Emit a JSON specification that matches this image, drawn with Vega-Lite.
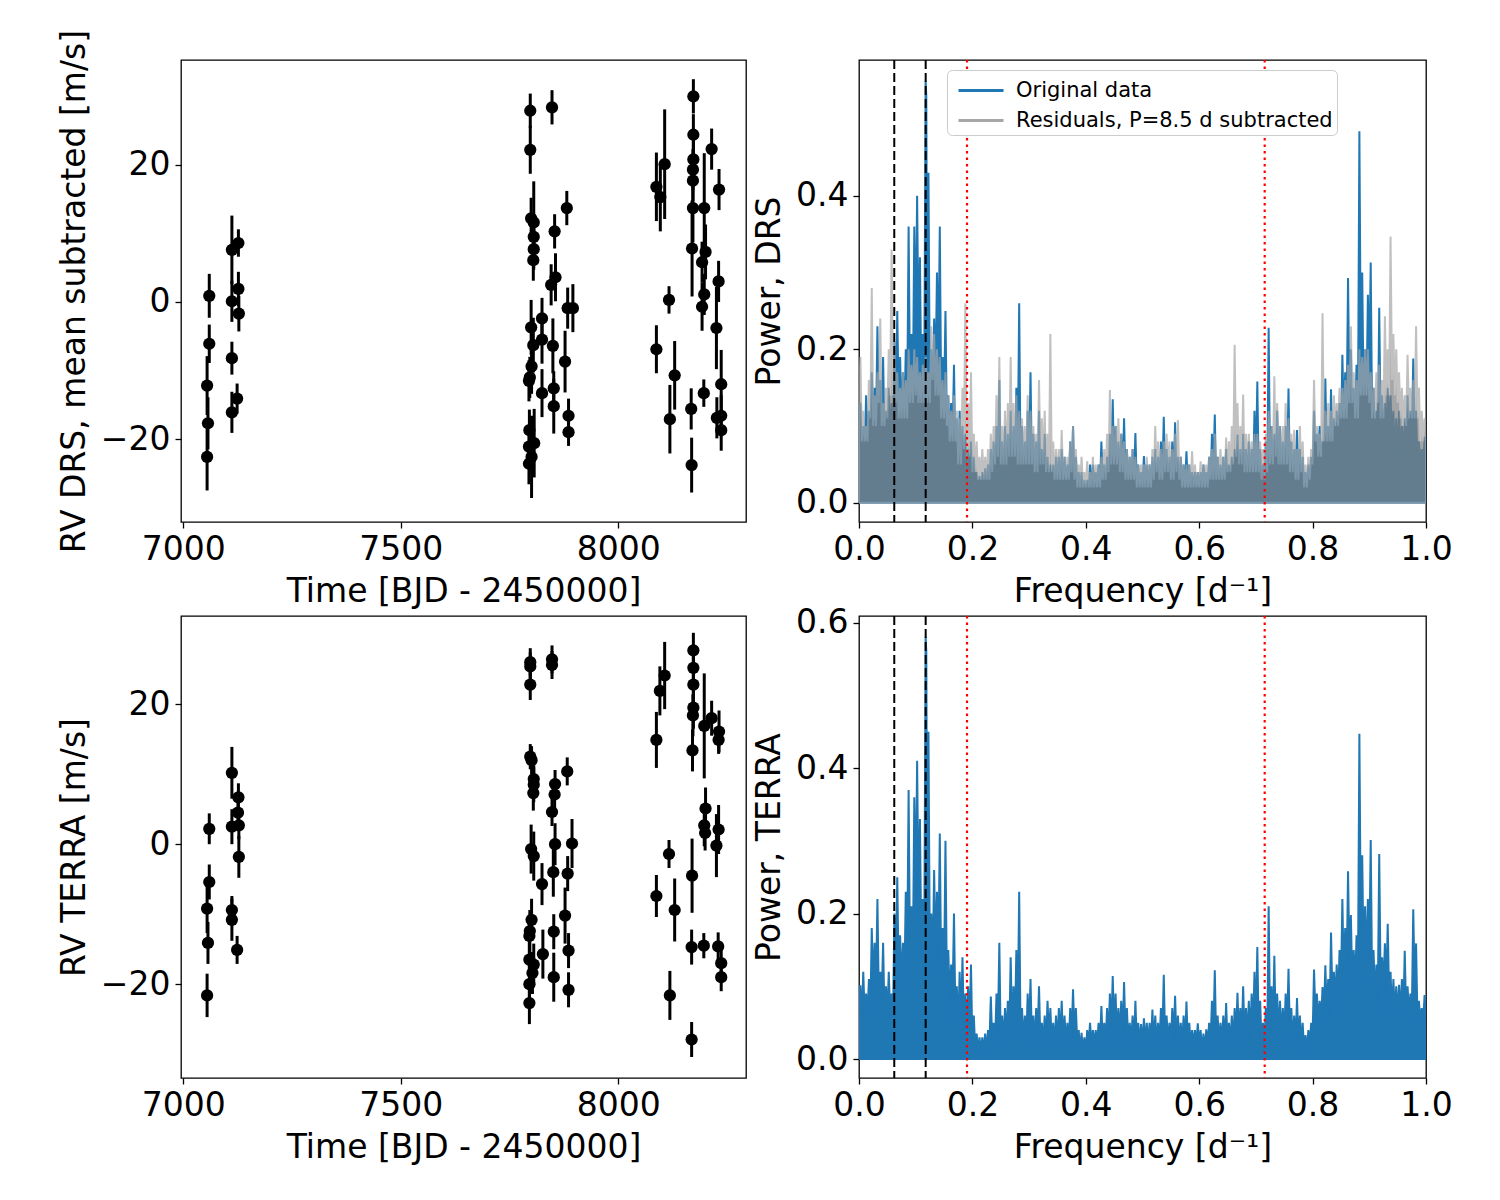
{
"$schema":"https://vega.github.io/schema/vega-lite/v6.json",
"background":"white",
"padding":{"left":57,"top":28,"right":5,"bottom":5},
"config":{"font":"DejaVu Sans","view":{"stroke":"black","strokeWidth":1.3},
"axis":{"domain":false,"grid":false,"ticks":true,"tickColor":"black","tickSize":6,"tickWidth":1.3,"labelFontSize":33,"titleFontSize":33,"labelColor":"black","titleColor":"black","titleFontWeight":"normal","labelPadding":5,"titlePadding":9,"labelFlush":false,"labelOverlap":false}},
"datasets":{
"drs":[
{"t":7060,"v":0.9,"e":3.2},{"t":7060,"v":-6.1,"e":2.8},{"t":7055,"v":-12.2,"e":4.3},{"t":7057,"v":-17.7,"e":3.8},{"t":7055,"v":-22.6,"e":4.9},
{"t":7112,"v":7.6,"e":5},{"t":7127,"v":8.6,"e":2},{"t":7127,"v":1.9,"e":2.5},{"t":7128,"v":-1.7,"e":2.6},{"t":7112,"v":0.1,"e":3},{"t":7112,"v":-8.2,"e":2.4},{"t":7124,"v":-14.1,"e":2.2},{"t":7112,"v":-16.1,"e":3},
{"t":7798,"v":27.9,"e":2.5},{"t":7848,"v":28.4,"e":2.5},{"t":7798,"v":22.2,"e":3.5},{"t":7800,"v":12.2,"e":3},{"t":7806,"v":11.6,"e":6},{"t":7806,"v":9.5,"e":3},{"t":7806,"v":7.7,"e":3},{"t":7805,"v":6.1,"e":3},{"t":7854,"v":10.3,"e":2.5},{"t":7882,"v":13.7,"e":2.5},{"t":7856,"v":3.6,"e":3.5},{"t":7846,"v":2.5,"e":3},{"t":7884,"v":-0.9,"e":3},{"t":7896,"v":-0.9,"e":3.5},{"t":7800,"v":-3.7,"e":4},{"t":7825,"v":-2.4,"e":3},{"t":7825,"v":-5.5,"e":3.5},{"t":7805,"v":-6.3,"e":4},{"t":7850,"v":-6.4,"e":4},{"t":7878,"v":-8.7,"e":4.5},{"t":7801,"v":-9.4,"e":4},{"t":7795,"v":-11.5,"e":3},{"t":7797,"v":-11,"e":3},{"t":7825,"v":-13.3,"e":3.5},{"t":7852,"v":-12.6,"e":2.5},{"t":7852,"v":-15.2,"e":4},{"t":7886,"v":-16.6,"e":2.5},{"t":7886,"v":-19,"e":2},{"t":7796,"v":-18.7,"e":3},{"t":7795,"v":-21.1,"e":3},{"t":7807,"v":-20.6,"e":5},{"t":7801,"v":-22.6,"e":6},{"t":7795,"v":-23.6,"e":3},
{"t":8173,"v":30,"e":2.5},{"t":8173,"v":24.4,"e":3},{"t":8173,"v":20.8,"e":3},{"t":8172,"v":19.3,"e":3},{"t":8172,"v":17.7,"e":3},{"t":8215,"v":22.3,"e":3},{"t":8107,"v":20.1,"e":8},{"t":8088,"v":16.8,"e":5},{"t":8097,"v":15.3,"e":5},{"t":8232,"v":16.4,"e":3},{"t":8172,"v":13.7,"e":5},{"t":8198,"v":13.7,"e":8},{"t":8170,"v":7.8,"e":7},{"t":8201,"v":7.3,"e":4},{"t":8193,"v":5.8,"e":3},{"t":8231,"v":3,"e":3},{"t":8198,"v":1.1,"e":3},{"t":8193,"v":-0.7,"e":3.5},{"t":8117,"v":0.3,"e":2},{"t":8226,"v":-3.8,"e":6},{"t":8088,"v":-6.9,"e":3.5},{"t":8130,"v":-10.7,"e":5},{"t":8119,"v":-17.1,"e":5},{"t":8168,"v":-15.6,"e":3},{"t":8197,"v":-13.3,"e":2},{"t":8237,"v":-12,"e":5},{"t":8227,"v":-16.9,"e":3},{"t":8237,"v":-16.6,"e":3},{"t":8237,"v":-18.7,"e":3},{"t":8169,"v":-23.8,"e":4}
],
"terra":[
{"t":7060,"v":2.2,"e":2.2},{"t":7060,"v":-5.4,"e":2.5},{"t":7055,"v":-9.2,"e":3.5},{"t":7057,"v":-14.1,"e":3},{"t":7055,"v":-21.6,"e":3.1},
{"t":7112,"v":10.2,"e":3.7},{"t":7127,"v":6.7,"e":2},{"t":7126,"v":4.5,"e":2},{"t":7112,"v":2.5,"e":2.5},{"t":7128,"v":2.7,"e":2},{"t":7128,"v":-1.8,"e":3},{"t":7112,"v":-9.4,"e":2},{"t":7112,"v":-10.8,"e":3},{"t":7124,"v":-15.1,"e":2},
{"t":7798,"v":26,"e":2},{"t":7798,"v":25.4,"e":2},{"t":7848,"v":26.4,"e":2},{"t":7848,"v":25.6,"e":2},{"t":7798,"v":22.8,"e":2.2},{"t":7798,"v":12.5,"e":1.8},{"t":7801,"v":12,"e":2},{"t":7806,"v":9.3,"e":2},{"t":7806,"v":8.5,"e":2.5},{"t":7805,"v":7.3,"e":2.5},{"t":7883,"v":10.4,"e":2},{"t":7855,"v":8.6,"e":2},{"t":7854,"v":7.1,"e":2},{"t":7848,"v":4.6,"e":2},{"t":7800,"v":-0.7,"e":3.5},{"t":7806,"v":-1.7,"e":3.5},{"t":7855,"v":0,"e":3},{"t":7894,"v":0.1,"e":3.5},{"t":7825,"v":-5.7,"e":3},{"t":7851,"v":-4,"e":3.5},{"t":7884,"v":-4.2,"e":2.5},{"t":7801,"v":-10.8,"e":3},{"t":7797,"v":-12.4,"e":3},{"t":7796,"v":-13.1,"e":3},{"t":7852,"v":-12.5,"e":2.5},{"t":7878,"v":-10.2,"e":4},{"t":7827,"v":-15.7,"e":3.5},{"t":7886,"v":-15.2,"e":2.5},{"t":7796,"v":-16.5,"e":2.5},{"t":7806,"v":-17.2,"e":3},{"t":7803,"v":-18.4,"e":3},{"t":7796,"v":-20,"e":3},{"t":7852,"v":-19,"e":3.5},{"t":7886,"v":-20.8,"e":2.5},{"t":7796,"v":-22.7,"e":3},
{"t":8173,"v":27.7,"e":2.5},{"t":8173,"v":25.2,"e":2.5},{"t":8173,"v":22.8,"e":2.5},{"t":8173,"v":19.5,"e":3},{"t":8172,"v":18.4,"e":3},{"t":8171,"v":13.4,"e":3},{"t":8107,"v":24.1,"e":4.8},{"t":8096,"v":21.9,"e":3.5},{"t":8088,"v":14.9,"e":4},{"t":8198,"v":16.9,"e":7.5},{"t":8215,"v":18,"e":2.5},{"t":8232,"v":16.1,"e":3},{"t":8231,"v":14.9,"e":2},{"t":8201,"v":5.1,"e":3},{"t":8198,"v":2.7,"e":3},{"t":8200,"v":1.6,"e":2.5},{"t":8231,"v":2.1,"e":3.5},{"t":8226,"v":-0.2,"e":4.5},{"t":8117,"v":-1.4,"e":2},{"t":8170,"v":-4.5,"e":5.3},{"t":8088,"v":-7.4,"e":3},{"t":8130,"v":-9.4,"e":4.5},{"t":8169,"v":-14.7,"e":2.5},{"t":8197,"v":-14.5,"e":1.8},{"t":8230,"v":-14.6,"e":2},{"t":8237,"v":-17,"e":2.5},{"t":8237,"v":-19,"e":2},{"t":8119,"v":-21.6,"e":3.5},{"t":8169,"v":-27.9,"e":2.5}
],
"pg":[
{"f":0,"d":0.12,"r":0.15,"t":0.1},{"f":0.0025,"d":0.13,"r":0.19,"t":0.1},{"f":0.005,"d":0.06,"r":0.08,"t":0.06},{"f":0.0075,"d":0.1,"r":0.12,"t":0.12},{"f":0.01,"d":0.06,"r":0.08,"t":0.06},{"f":0.0125,"d":0.14,"r":0.1,"t":0.09},{"f":0.015,"d":0.08,"r":0.08,"t":0.06},{"f":0.0175,"d":0.12,"r":0.16,"t":0.11},{"f":0.02,"d":0.08,"r":0.11,"t":0.06},{"f":0.0225,"d":0.17,"r":0.28,"t":0.18},
{"f":0.025,"d":0.1,"r":0.1,"t":0.1},{"f":0.0275,"d":0.15,"r":0.14,"t":0.16},{"f":0.03,"d":0.1,"r":0.1,"t":0.1},{"f":0.0325,"d":0.23,"r":0.17,"t":0.22},{"f":0.035,"d":0.1,"r":0.13,"t":0.08},{"f":0.0375,"d":0.16,"r":0.24,"t":0.12},{"f":0.04,"d":0.1,"r":0.1,"t":0.08},{"f":0.0425,"d":0.19,"r":0.13,"t":0.16},{"f":0.045,"d":0.08,"r":0.1,"t":0.06},{"f":0.0475,"d":0.12,"r":0.15,"t":0.1},
{"f":0.05,"d":0.08,"r":0.11,"t":0.06},{"f":0.0525,"d":0.15,"r":0.2,"t":0.12},{"f":0.055,"d":0.08,"r":0.14,"t":0.06},{"f":0.0575,"d":0.13,"r":0.33,"t":0.09},{"f":0.06,"d":0.08,"r":0.14,"t":0.06},{"f":0.0625,"d":0.21,"r":0.21,"t":0.2},{"f":0.065,"d":0.13,"r":0.13,"t":0.13},{"f":0.0675,"d":0.25,"r":0.17,"t":0.25},{"f":0.07,"d":0.13,"r":0.11,"t":0.11},{"f":0.0725,"d":0.19,"r":0.15,"t":0.17},
{"f":0.075,"d":0.11,"r":0.11,"t":0.1},{"f":0.0775,"d":0.17,"r":0.17,"t":0.16},{"f":0.08,"d":0.11,"r":0.11,"t":0.1},{"f":0.0825,"d":0.2,"r":0.16,"t":0.23},{"f":0.085,"d":0.13,"r":0.11,"t":0.14},{"f":0.0875,"d":0.36,"r":0.2,"t":0.37},{"f":0.09,"d":0.14,"r":0.13,"t":0.13},{"f":0.0925,"d":0.22,"r":0.18,"t":0.21},{"f":0.095,"d":0.14,"r":0.13,"t":0.13},{"f":0.0975,"d":0.36,"r":0.2,"t":0.36},
{"f":0.1,"d":0.22,"r":0.14,"t":0.22},{"f":0.1025,"d":0.4,"r":0.19,"t":0.41},{"f":0.105,"d":0.21,"r":0.13,"t":0.21},{"f":0.1075,"d":0.32,"r":0.17,"t":0.33},{"f":0.11,"d":0.14,"r":0.13,"t":0.14},{"f":0.1125,"d":0.22,"r":0.18,"t":0.22},{"f":0.115,"d":0.14,"r":0.13,"t":0.14},{"f":0.1175,"d":0.55,"r":0.19,"t":0.58},{"f":0.1187,"d":0.53,"r":0.17,"t":0.56},{"f":0.12,"d":0.27,"r":0.13,"t":0.29},{"f":0.1225,"d":0.43,"r":0.17,"t":0.45},
{"f":0.125,"d":0.13,"r":0.13,"t":0.13},{"f":0.1275,"d":0.2,"r":0.23,"t":0.2},{"f":0.13,"d":0.13,"r":0.16,"t":0.13},{"f":0.1325,"d":0.24,"r":0.22,"t":0.26},{"f":0.135,"d":0.16,"r":0.14,"t":0.14},{"f":0.1375,"d":0.3,"r":0.2,"t":0.23},{"f":0.14,"d":0.19,"r":0.14,"t":0.14},{"f":0.1425,"d":0.36,"r":0.19,"t":0.31},{"f":0.145,"d":0.13,"r":0.11,"t":0.11},{"f":0.1475,"d":0.19,"r":0.16,"t":0.18},
{"f":0.15,"d":0.13,"r":0.11,"t":0.11},{"f":0.1525,"d":0.25,"r":0.17,"t":0.3},{"f":0.155,"d":0.1,"r":0.1,"t":0.1},{"f":0.1575,"d":0.14,"r":0.14,"t":0.15},{"f":0.16,"d":0.08,"r":0.08,"t":0.08},{"f":0.1625,"d":0.13,"r":0.12,"t":0.13},{"f":0.165,"d":0.08,"r":0.08,"t":0.08},{"f":0.1675,"d":0.18,"r":0.14,"t":0.2},{"f":0.17,"d":0.06,"r":0.08,"t":0.06},{"f":0.1725,"d":0.11,"r":0.12,"t":0.1},
{"f":0.175,"d":0.04,"r":0.05,"t":0.04},{"f":0.1775,"d":0.12,"r":0.11,"t":0.12},{"f":0.18,"d":0.04,"r":0.05,"t":0.05},{"f":0.1825,"d":0.1,"r":0.15,"t":0.14},{"f":0.185,"d":0.04,"r":0.07,"t":0.04},{"f":0.1875,"d":0.09,"r":0.26,"t":0.09},{"f":0.19,"d":0.03,"r":0.06,"t":0.04},{"f":0.1925,"d":0.07,"r":0.13,"t":0.1},{"f":0.195,"d":0.03,"r":0.06,"t":0.04},{"f":0.1975,"d":0.08,"r":0.17,"t":0.13},
{"f":0.2,"d":0.02,"r":0.04,"t":0.02},{"f":0.2025,"d":0.06,"r":0.09,"t":0.06},{"f":0.205,"d":0.02,"r":0.04,"t":0.01},{"f":0.2075,"d":0.04,"r":0.08,"t":0.035},{"f":0.21,"d":0.01,"r":0.03,"t":0.01},{"f":0.2125,"d":0.035,"r":0.06,"t":0.03},{"f":0.215,"d":0.01,"r":0.03,"t":0.01},{"f":0.2175,"d":0.04,"r":0.07,"t":0.03},{"f":0.22,"d":0.02,"r":0.03,"t":0.01},{"f":0.2225,"d":0.045,"r":0.06,"t":0.035},
{"f":0.225,"d":0.02,"r":0.03,"t":0.01},{"f":0.2275,"d":0.05,"r":0.07,"t":0.04},{"f":0.23,"d":0.02,"r":0.03,"t":0.02},{"f":0.2325,"d":0.07,"r":0.09,"t":0.086},{"f":0.235,"d":0.03,"r":0.04,"t":0.02},{"f":0.2375,"d":0.08,"r":0.1,"t":0.05},{"f":0.24,"d":0.03,"r":0.05,"t":0.02},{"f":0.2425,"d":0.1,"r":0.14,"t":0.09},{"f":0.245,"d":0.04,"r":0.06,"t":0.04},{"f":0.2475,"d":0.16,"r":0.19,"t":0.16},
{"f":0.25,"d":0.03,"r":0.05,"t":0.02},{"f":0.2525,"d":0.08,"r":0.1,"t":0.06},{"f":0.255,"d":0.03,"r":0.05,"t":0.02},{"f":0.2575,"d":0.1,"r":0.12,"t":0.07},{"f":0.26,"d":0.04,"r":0.05,"t":0.03},{"f":0.2625,"d":0.09,"r":0.13,"t":0.08},{"f":0.265,"d":0.04,"r":0.06,"t":0.03},{"f":0.2675,"d":0.12,"r":0.19,"t":0.14},{"f":0.27,"d":0.04,"r":0.06,"t":0.04},{"f":0.2725,"d":0.1,"r":0.13,"t":0.1},
{"f":0.275,"d":0.04,"r":0.06,"t":0.04},{"f":0.2775,"d":0.15,"r":0.14,"t":0.15},{"f":0.28,"d":0.06,"r":0.05,"t":0.06},{"f":0.2825,"d":0.26,"r":0.12,"t":0.23},{"f":0.285,"d":0.04,"r":0.05,"t":0.03},{"f":0.2875,"d":0.1,"r":0.11,"t":0.07},{"f":0.29,"d":0.03,"r":0.05,"t":0.02},{"f":0.2925,"d":0.08,"r":0.1,"t":0.06},{"f":0.295,"d":0.03,"r":0.05,"t":0.02},{"f":0.2975,"d":0.12,"r":0.14,"t":0.09},
{"f":0.3,"d":0.05,"r":0.05,"t":0.04},{"f":0.3025,"d":0.17,"r":0.12,"t":0.11},{"f":0.305,"d":0.04,"r":0.05,"t":0.02},{"f":0.3075,"d":0.09,"r":0.1,"t":0.06},{"f":0.31,"d":0.03,"r":0.04,"t":0.02},{"f":0.3125,"d":0.08,"r":0.09,"t":0.07},{"f":0.315,"d":0.03,"r":0.04,"t":0.03},{"f":0.3175,"d":0.12,"r":0.16,"t":0.1},{"f":0.32,"d":0.03,"r":0.05,"t":0.02},{"f":0.3225,"d":0.07,"r":0.11,"t":0.05},
{"f":0.325,"d":0.03,"r":0.05,"t":0.02},{"f":0.3275,"d":0.09,"r":0.12,"t":0.06},{"f":0.33,"d":0.02,"r":0.04,"t":0.02},{"f":0.3325,"d":0.06,"r":0.09,"t":0.08},{"f":0.335,"d":0.02,"r":0.04,"t":0.03},{"f":0.3375,"d":0.05,"r":0.22,"t":0.07},{"f":0.34,"d":0.02,"r":0.04,"t":0.02},{"f":0.3425,"d":0.05,"r":0.08,"t":0.05},{"f":0.345,"d":0.02,"r":0.03,"t":0.02},{"f":0.3475,"d":0.06,"r":0.07,"t":0.06},
{"f":0.35,"d":0.02,"r":0.03,"t":0.02},{"f":0.3525,"d":0.06,"r":0.07,"t":0.07},{"f":0.355,"d":0.02,"r":0.03,"t":0.03},{"f":0.3575,"d":0.07,"r":0.095,"t":0.08},{"f":0.36,"d":0.02,"r":0.03,"t":0.02},{"f":0.3625,"d":0.06,"r":0.06,"t":0.06},{"f":0.365,"d":0.02,"r":0.03,"t":0.02},{"f":0.3675,"d":0.05,"r":0.06,"t":0.05},{"f":0.37,"d":0.02,"r":0.03,"t":0.02},{"f":0.3725,"d":0.08,"r":0.08,"t":0.07},
{"f":0.375,"d":0.03,"r":0.04,"t":0.03},{"f":0.3775,"d":0.1,"r":0.1,"t":0.096},{"f":0.38,"d":0.02,"r":0.03,"t":0.03},{"f":0.3825,"d":0.06,"r":0.07,"t":0.07},{"f":0.385,"d":0.02,"r":0.02,"t":0.02},{"f":0.3875,"d":0.04,"r":0.05,"t":0.04},{"f":0.39,"d":0.02,"r":0.02,"t":0.01},{"f":0.3925,"d":0.04,"r":0.06,"t":0.036},{"f":0.395,"d":0.01,"r":0.02,"t":0.01},{"f":0.3975,"d":0.03,"r":0.04,"t":0.03},
{"f":0.4,"d":0.01,"r":0.02,"t":0.01},{"f":0.4025,"d":0.03,"r":0.054,"t":0.04},{"f":0.405,"d":0.01,"r":0.02,"t":0.02},{"f":0.4075,"d":0.05,"r":0.04,"t":0.05},{"f":0.41,"d":0.02,"r":0.02,"t":0.02},{"f":0.4125,"d":0.05,"r":0.06,"t":0.04},{"f":0.415,"d":0.02,"r":0.02,"t":0.02},{"f":0.4175,"d":0.04,"r":0.05,"t":0.04},{"f":0.42,"d":0.02,"r":0.02,"t":0.02},{"f":0.4225,"d":0.05,"r":0.05,"t":0.05},
{"f":0.425,"d":0.02,"r":0.02,"t":0.02},{"f":0.4275,"d":0.08,"r":0.06,"t":0.073},{"f":0.43,"d":0.02,"r":0.03,"t":0.02},{"f":0.4325,"d":0.05,"r":0.07,"t":0.05},{"f":0.435,"d":0.02,"r":0.03,"t":0.02},{"f":0.4375,"d":0.06,"r":0.09,"t":0.07},{"f":0.44,"d":0.02,"r":0.04,"t":0.03},{"f":0.4425,"d":0.09,"r":0.147,"t":0.09},{"f":0.445,"d":0.04,"r":0.05,"t":0.04},{"f":0.4475,"d":0.135,"r":0.1,"t":0.114},
{"f":0.45,"d":0.04,"r":0.05,"t":0.04},{"f":0.4525,"d":0.1,"r":0.1,"t":0.09},{"f":0.455,"d":0.03,"r":0.05,"t":0.03},{"f":0.4575,"d":0.08,"r":0.11,"t":0.07},{"f":0.46,"d":0.03,"r":0.04,"t":0.03},{"f":0.4625,"d":0.09,"r":0.09,"t":0.08},{"f":0.465,"d":0.04,"r":0.04,"t":0.03},{"f":0.4675,"d":0.11,"r":0.08,"t":0.106},{"f":0.47,"d":0.03,"r":0.03,"t":0.03},{"f":0.4725,"d":0.07,"r":0.07,"t":0.07},
{"f":0.475,"d":0.02,"r":0.03,"t":0.02},{"f":0.4775,"d":0.06,"r":0.06,"t":0.05},{"f":0.48,"d":0.02,"r":0.03,"t":0.02},{"f":0.4825,"d":0.07,"r":0.07,"t":0.06},{"f":0.485,"d":0.03,"r":0.03,"t":0.02},{"f":0.4875,"d":0.091,"r":0.06,"t":0.08},{"f":0.49,"d":0.02,"r":0.02,"t":0.02},{"f":0.4925,"d":0.05,"r":0.05,"t":0.05},{"f":0.495,"d":0.02,"r":0.02,"t":0.02},{"f":0.4975,"d":0.04,"r":0.05,"t":0.048},
{"f":0.5,"d":0.02,"r":0.02,"t":0.02},{"f":0.5025,"d":0.061,"r":0.05,"t":0.056},{"f":0.505,"d":0.02,"r":0.02,"t":0.02},{"f":0.5075,"d":0.05,"r":0.06,"t":0.05},{"f":0.51,"d":0.02,"r":0.02,"t":0.02},{"f":0.5125,"d":0.05,"r":0.05,"t":0.05},{"f":0.515,"d":0.02,"r":0.02,"t":0.02},{"f":0.5175,"d":0.06,"r":0.07,"t":0.068},{"f":0.52,"d":0.02,"r":0.03,"t":0.02},{"f":0.5225,"d":0.07,"r":0.1,"t":0.06},
{"f":0.525,"d":0.02,"r":0.04,"t":0.02},{"f":0.5275,"d":0.06,"r":0.08,"t":0.05},{"f":0.53,"d":0.02,"r":0.03,"t":0.02},{"f":0.5325,"d":0.08,"r":0.07,"t":0.07},{"f":0.535,"d":0.03,"r":0.03,"t":0.03},{"f":0.5375,"d":0.112,"r":0.08,"t":0.116},{"f":0.54,"d":0.03,"r":0.04,"t":0.02},{"f":0.5425,"d":0.07,"r":0.09,"t":0.06},{"f":0.545,"d":0.02,"r":0.04,"t":0.02},{"f":0.5475,"d":0.06,"r":0.08,"t":0.05},
{"f":0.55,"d":0.02,"r":0.03,"t":0.02},{"f":0.5525,"d":0.08,"r":0.07,"t":0.07},{"f":0.555,"d":0.03,"r":0.03,"t":0.03},{"f":0.5575,"d":0.105,"r":0.09,"t":0.087},{"f":0.56,"d":0.02,"r":0.04,"t":0.02},{"f":0.5625,"d":0.06,"r":0.108,"t":0.06},{"f":0.565,"d":0.02,"r":0.03,"t":0.02},{"f":0.5675,"d":0.06,"r":0.06,"t":0.05},{"f":0.57,"d":0.02,"r":0.02,"t":0.02},{"f":0.5725,"d":0.05,"r":0.05,"t":0.06},
{"f":0.575,"d":0.02,"r":0.02,"t":0.02},{"f":0.5775,"d":0.067,"r":0.05,"t":0.079},{"f":0.58,"d":0.02,"r":0.02,"t":0.02},{"f":0.5825,"d":0.05,"r":0.05,"t":0.05},{"f":0.585,"d":0.02,"r":0.02,"t":0.02},{"f":0.5875,"d":0.04,"r":0.067,"t":0.04},{"f":0.59,"d":0.02,"r":0.02,"t":0.02},{"f":0.5925,"d":0.04,"r":0.05,"t":0.04},{"f":0.595,"d":0.02,"r":0.02,"t":0.02},{"f":0.5975,"d":0.04,"r":0.04,"t":0.049},
{"f":0.6,"d":0.02,"r":0.02,"t":0.02},{"f":0.6025,"d":0.04,"r":0.054,"t":0.04},{"f":0.605,"d":0.02,"r":0.02,"t":0.01},{"f":0.6075,"d":0.05,"r":0.05,"t":0.035},{"f":0.61,"d":0.02,"r":0.02,"t":0.01},{"f":0.6125,"d":0.04,"r":0.05,"t":0.041},{"f":0.615,"d":0.02,"r":0.02,"t":0.02},{"f":0.6175,"d":0.06,"r":0.06,"t":0.05},{"f":0.62,"d":0.02,"r":0.03,"t":0.02},{"f":0.6225,"d":0.09,"r":0.07,"t":0.08},
{"f":0.625,"d":0.04,"r":0.03,"t":0.03},{"f":0.6275,"d":0.115,"r":0.09,"t":0.122},{"f":0.63,"d":0.02,"r":0.03,"t":0.02},{"f":0.6325,"d":0.06,"r":0.06,"t":0.06},{"f":0.635,"d":0.02,"r":0.03,"t":0.02},{"f":0.6375,"d":0.05,"r":0.07,"t":0.05},{"f":0.64,"d":0.02,"r":0.03,"t":0.02},{"f":0.6425,"d":0.06,"r":0.06,"t":0.06},{"f":0.645,"d":0.02,"r":0.03,"t":0.02},{"f":0.6475,"d":0.07,"r":0.085,"t":0.077},
{"f":0.65,"d":0.02,"r":0.04,"t":0.02},{"f":0.6525,"d":0.05,"r":0.08,"t":0.05},{"f":0.655,"d":0.02,"r":0.04,"t":0.02},{"f":0.6575,"d":0.06,"r":0.1,"t":0.06},{"f":0.66,"d":0.02,"r":0.05,"t":0.02},{"f":0.6625,"d":0.07,"r":0.206,"t":0.07},{"f":0.665,"d":0.03,"r":0.06,"t":0.03},{"f":0.6675,"d":0.089,"r":0.13,"t":0.091},{"f":0.67,"d":0.03,"r":0.05,"t":0.03},{"f":0.6725,"d":0.07,"r":0.1,"t":0.07},
{"f":0.675,"d":0.03,"r":0.05,"t":0.03},{"f":0.6775,"d":0.09,"r":0.141,"t":0.1},{"f":0.68,"d":0.03,"r":0.04,"t":0.03},{"f":0.6825,"d":0.07,"r":0.09,"t":0.07},{"f":0.685,"d":0.03,"r":0.04,"t":0.03},{"f":0.6875,"d":0.08,"r":0.09,"t":0.08},{"f":0.69,"d":0.03,"r":0.04,"t":0.03},{"f":0.6925,"d":0.07,"r":0.08,"t":0.09},{"f":0.695,"d":0.03,"r":0.04,"t":0.04},{"f":0.6975,"d":0.12,"r":0.09,"t":0.12},
{"f":0.7,"d":0.05,"r":0.04,"t":0.05},{"f":0.7025,"d":0.158,"r":0.09,"t":0.154},{"f":0.705,"d":0.03,"r":0.04,"t":0.03},{"f":0.7075,"d":0.07,"r":0.08,"t":0.08},{"f":0.71,"d":0.02,"r":0.03,"t":0.02},{"f":0.7125,"d":0.05,"r":0.07,"t":0.05},{"f":0.715,"d":0.02,"r":0.03,"t":0.02},{"f":0.7175,"d":0.08,"r":0.09,"t":0.07},{"f":0.72,"d":0.03,"r":0.04,"t":0.03},{"f":0.7225,"d":0.228,"r":0.12,"t":0.21},
{"f":0.725,"d":0.04,"r":0.05,"t":0.04},{"f":0.7275,"d":0.1,"r":0.1,"t":0.1},{"f":0.73,"d":0.04,"r":0.05,"t":0.04},{"f":0.7325,"d":0.09,"r":0.165,"t":0.142},{"f":0.735,"d":0.04,"r":0.06,"t":0.04},{"f":0.7375,"d":0.12,"r":0.13,"t":0.09},{"f":0.74,"d":0.04,"r":0.05,"t":0.03},{"f":0.7425,"d":0.1,"r":0.1,"t":0.08},{"f":0.745,"d":0.03,"r":0.05,"t":0.03},{"f":0.7475,"d":0.08,"r":0.1,"t":0.07},
{"f":0.75,"d":0.03,"r":0.05,"t":0.03},{"f":0.7525,"d":0.1,"r":0.13,"t":0.09},{"f":0.755,"d":0.04,"r":0.05,"t":0.04},{"f":0.7575,"d":0.149,"r":0.11,"t":0.124},{"f":0.76,"d":0.03,"r":0.04,"t":0.03},{"f":0.7625,"d":0.08,"r":0.09,"t":0.07},{"f":0.765,"d":0.03,"r":0.04,"t":0.02},{"f":0.7675,"d":0.07,"r":0.095,"t":0.06},{"f":0.77,"d":0.03,"r":0.03,"t":0.02},{"f":0.7725,"d":0.095,"r":0.07,"t":0.084},
{"f":0.775,"d":0.03,"r":0.03,"t":0.02},{"f":0.7775,"d":0.07,"r":0.1,"t":0.06},{"f":0.78,"d":0.02,"r":0.04,"t":0.02},{"f":0.7825,"d":0.06,"r":0.08,"t":0.05},{"f":0.785,"d":0.02,"r":0.02,"t":0.01},{"f":0.7875,"d":0.04,"r":0.05,"t":0.033},{"f":0.79,"d":0.02,"r":0.02,"t":0.01},{"f":0.7925,"d":0.05,"r":0.06,"t":0.04},{"f":0.795,"d":0.02,"r":0.03,"t":0.02},{"f":0.7975,"d":0.06,"r":0.07,"t":0.05},
{"f":0.8,"d":0.03,"r":0.05,"t":0.03},{"f":0.8025,"d":0.12,"r":0.16,"t":0.123},{"f":0.805,"d":0.06,"r":0.08,"t":0.06},{"f":0.8075,"d":0.09,"r":0.1,"t":0.09},{"f":0.81,"d":0.06,"r":0.06,"t":0.05},{"f":0.8125,"d":0.1,"r":0.09,"t":0.08},{"f":0.815,"d":0.05,"r":0.06,"t":0.05},{"f":0.8175,"d":0.08,"r":0.247,"t":0.099},{"f":0.82,"d":0.05,"r":0.08,"t":0.06},{"f":0.8225,"d":0.162,"r":0.12,"t":0.129},
{"f":0.825,"d":0.06,"r":0.08,"t":0.06},{"f":0.8275,"d":0.1,"r":0.13,"t":0.11},{"f":0.83,"d":0.06,"r":0.08,"t":0.06},{"f":0.8325,"d":0.148,"r":0.12,"t":0.174},{"f":0.835,"d":0.06,"r":0.08,"t":0.08},{"f":0.8375,"d":0.11,"r":0.14,"t":0.12},{"f":0.84,"d":0.06,"r":0.1,"t":0.08},{"f":0.8425,"d":0.12,"r":0.13,"t":0.13},{"f":0.845,"d":0.08,"r":0.1,"t":0.08},{"f":0.8475,"d":0.13,"r":0.15,"t":0.15},
{"f":0.85,"d":0.08,"r":0.11,"t":0.1},{"f":0.8525,"d":0.193,"r":0.15,"t":0.22},{"f":0.855,"d":0.11,"r":0.11,"t":0.11},{"f":0.8575,"d":0.17,"r":0.16,"t":0.18},{"f":0.86,"d":0.11,"r":0.11,"t":0.11},{"f":0.8625,"d":0.293,"r":0.18,"t":0.258},{"f":0.865,"d":0.13,"r":0.13,"t":0.13},{"f":0.8675,"d":0.2,"r":0.23,"t":0.198},{"f":0.87,"d":0.1,"r":0.13,"t":0.1},{"f":0.8725,"d":0.15,"r":0.17,"t":0.15},
{"f":0.875,"d":0.1,"r":0.11,"t":0.1},{"f":0.8775,"d":0.18,"r":0.16,"t":0.17},{"f":0.88,"d":0.11,"r":0.11,"t":0.11},{"f":0.8825,"d":0.484,"r":0.2,"t":0.447},{"f":0.885,"d":0.19,"r":0.14,"t":0.18},{"f":0.8875,"d":0.3,"r":0.19,"t":0.28},{"f":0.89,"d":0.13,"r":0.14,"t":0.13},{"f":0.8925,"d":0.2,"r":0.2,"t":0.21},{"f":0.895,"d":0.13,"r":0.14,"t":0.13},{"f":0.8975,"d":0.271,"r":0.2,"t":0.22},
{"f":0.9,"d":0.18,"r":0.13,"t":0.14},{"f":0.9025,"d":0.313,"r":0.17,"t":0.301},{"f":0.905,"d":0.1,"r":0.11,"t":0.1},{"f":0.9075,"d":0.15,"r":0.15,"t":0.15},{"f":0.91,"d":0.08,"r":0.11,"t":0.08},{"f":0.9125,"d":0.12,"r":0.17,"t":0.13},{"f":0.915,"d":0.08,"r":0.13,"t":0.08},{"f":0.9175,"d":0.254,"r":0.18,"t":0.282},{"f":0.92,"d":0.1,"r":0.11,"t":0.1},{"f":0.9225,"d":0.14,"r":0.16,"t":0.14},
{"f":0.925,"d":0.08,"r":0.11,"t":0.1},{"f":0.9275,"d":0.13,"r":0.243,"t":0.159},{"f":0.93,"d":0.08,"r":0.14,"t":0.1},{"f":0.9325,"d":0.15,"r":0.2,"t":0.186},{"f":0.935,"d":0.1,"r":0.14,"t":0.08},{"f":0.9375,"d":0.14,"r":0.347,"t":0.12},{"f":0.94,"d":0.08,"r":0.16,"t":0.06},{"f":0.9425,"d":0.12,"r":0.22,"t":0.11},{"f":0.945,"d":0.06,"r":0.14,"t":0.06},{"f":0.9475,"d":0.11,"r":0.2,"t":0.1},
{"f":0.95,"d":0.06,"r":0.13,"t":0.06},{"f":0.9525,"d":0.12,"r":0.17,"t":0.102},{"f":0.955,"d":0.06,"r":0.11,"t":0.06},{"f":0.9575,"d":0.1,"r":0.15,"t":0.11},{"f":0.96,"d":0.06,"r":0.1,"t":0.06},{"f":0.9625,"d":0.11,"r":0.14,"t":0.149},{"f":0.965,"d":0.06,"r":0.1,"t":0.06},{"f":0.9675,"d":0.14,"r":0.193,"t":0.1},{"f":0.97,"d":0.08,"r":0.11,"t":0.06},{"f":0.9725,"d":0.12,"r":0.15,"t":0.09},
{"f":0.975,"d":0.08,"r":0.11,"t":0.06},{"f":0.9775,"d":0.188,"r":0.16,"t":0.206},{"f":0.98,"d":0.08,"r":0.11,"t":0.1},{"f":0.9825,"d":0.12,"r":0.23,"t":0.159},{"f":0.985,"d":0.05,"r":0.11,"t":0.05},{"f":0.9875,"d":0.08,"r":0.15,"t":0.08},{"f":0.99,"d":0.05,"r":0.08,"t":0.05},{"f":0.9925,"d":0.07,"r":0.12,"t":0.07},{"f":0.995,"d":0.05,"r":0.08,"t":0.05},{"f":0.9975,"d":0.086,"r":0.11,"t":0.088},
{"f":1,"d":0.06,"r":0.1,"t":0.05}
]},
"columns":2,
"spacing":{"row":94,"column":113},
"bounds":"flush",
"concat":[
{"width":565,"height":462,"data":{"name":"drs"},
"layer":[
{"mark":{"type":"errorbar","ticks":false,"color":"black","thickness":3},
"encoding":{"x":{"field":"t","type":"quantitative","scale":{"domain":[6995,8294],"nice":false,"zero":false},"axis":{"values":[7000,7500,8000],"format":"d","title":"Time [BJD - 2450000]"}},
"y":{"field":"v","type":"quantitative","scale":{"domain":[-32.1,35.3],"nice":false,"zero":false},"axis":{"values":[-20,0,20],"format":"d","title":"RV DRS, mean subtracted [m/s]"}},
"yError":{"field":"e"}}},
{"mark":{"type":"circle","color":"black","size":150,"opacity":1},
"encoding":{"x":{"field":"t","type":"quantitative"},"y":{"field":"v","type":"quantitative"}}}
]},
{"width":567,"height":462,
"layer":[
{"data":{"name":"pg"},"mark":{"type":"area","fill":"#1f77b4","stroke":"#1f77b4","strokeWidth":2,"clip":true},
"encoding":{"x":{"field":"f","type":"quantitative","scale":{"domain":[0,1],"nice":false,"zero":false},"axis":{"values":[0,0.2,0.4,0.6,0.8,1.0],"format":".1f","title":"Frequency [d\u207b\u00b9]"}},
"y":{"field":"d","type":"quantitative","stack":null,"scale":{"domain":[-0.025,0.577],"nice":false,"zero":false},"axis":{"values":[0,0.2,0.4],"format":".1f","title":"Power, DRS"}},
"stroke":{"datum":"Original data","type":"nominal","scale":{"domain":["Original data","Residuals, P=8.5 d subtracted"],"range":["#1f77b4","#a6a6a6"]},
"legend":{"orient":"none","legendX":766,"legendY":10,"title":null,"symbolType":"M-0.6,0H2.4","symbolSize":900,"symbolStrokeWidth":3,"symbolOpacity":1,"labelFontSize":21,"labelColor":"black","labelOffset":32,"padding":4,"rowPadding":3,"fillColor":"white","strokeColor":"#cccccc","cornerRadius":5,"labelLimit":0}}}},
{"data":{"name":"pg"},"mark":{"type":"area","fill":"#808080","stroke":"#808080","strokeWidth":2,"opacity":0.7,"clip":true},
"encoding":{"x":{"field":"f","type":"quantitative"},"y":{"field":"r","type":"quantitative","stack":null},
"stroke":{"datum":"Residuals, P=8.5 d subtracted","type":"nominal"}}},
{"data":{"values":[{"x":0.0622},{"x":0.1176}]},"mark":{"type":"rule","color":"black","strokeWidth":2,"strokeDash":[9,4]},"encoding":{"x":{"field":"x","type":"quantitative"}}},
{"data":{"values":[{"x":0.1905},{"x":0.7155}]},"mark":{"type":"rule","color":"red","strokeWidth":2.2,"strokeDash":[2.5,4]},"encoding":{"x":{"field":"x","type":"quantitative"}}}
]},
{"width":565,"height":462,"data":{"name":"terra"},
"layer":[
{"mark":{"type":"errorbar","ticks":false,"color":"black","thickness":3},
"encoding":{"x":{"field":"t","type":"quantitative","scale":{"domain":[6995,8294],"nice":false,"zero":false},"axis":{"values":[7000,7500,8000],"format":"d","title":"Time [BJD - 2450000]"}},
"y":{"field":"v","type":"quantitative","scale":{"domain":[-33.4,32.6],"nice":false,"zero":false},"axis":{"values":[-20,0,20],"format":"d","title":"RV TERRA [m/s]"}},
"yError":{"field":"e"}}},
{"mark":{"type":"circle","color":"black","size":150,"opacity":1},
"encoding":{"x":{"field":"t","type":"quantitative"},"y":{"field":"v","type":"quantitative"}}}
]},
{"width":567,"height":462,
"layer":[
{"data":{"name":"pg"},"mark":{"type":"area","fill":"#1f77b4","stroke":"#1f77b4","strokeWidth":2,"clip":true},
"encoding":{"x":{"field":"f","type":"quantitative","scale":{"domain":[0,1],"nice":false,"zero":false},"axis":{"values":[0,0.2,0.4,0.6,0.8,1.0],"format":".1f","title":"Frequency [d\u207b\u00b9]"}},
"y":{"field":"t","type":"quantitative","stack":null,"scale":{"domain":[-0.026,0.609],"nice":false,"zero":false},"axis":{"values":[0,0.2,0.4,0.6],"format":".1f","title":"Power, TERRA"}}}},
{"data":{"values":[{"x":0.0622},{"x":0.1176}]},"mark":{"type":"rule","color":"black","strokeWidth":2,"strokeDash":[9,4]},"encoding":{"x":{"field":"x","type":"quantitative"}}},
{"data":{"values":[{"x":0.1905},{"x":0.7155}]},"mark":{"type":"rule","color":"red","strokeWidth":2.2,"strokeDash":[2.5,4]},"encoding":{"x":{"field":"x","type":"quantitative"}}}
]}
]
}
